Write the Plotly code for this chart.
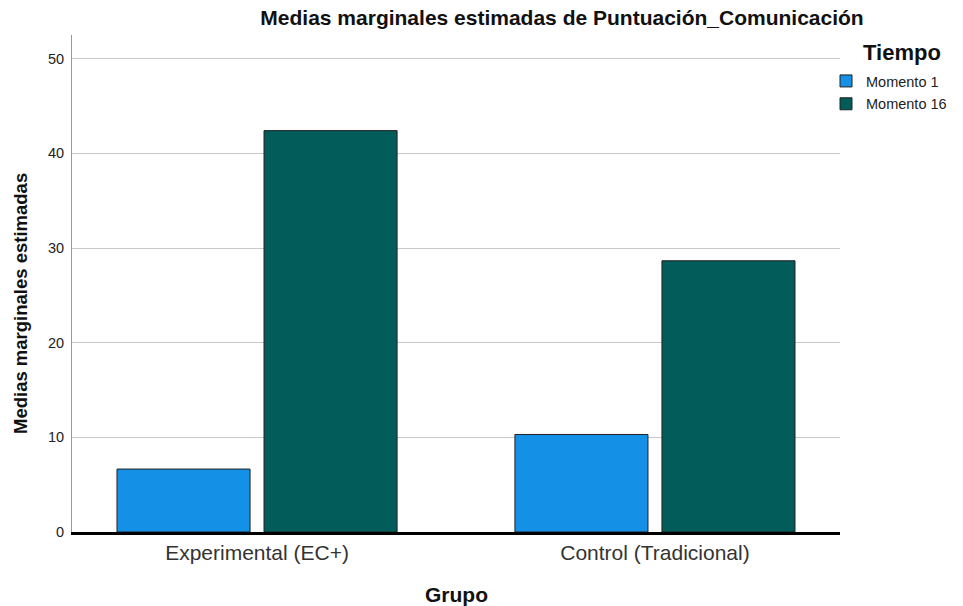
import plotly.graph_objects as go

grupos = ["Experimental (EC+)", "Control (Tradicional)"]
momento_1 = [6.65, 10.3]
momento_16 = [42.4, 28.65]
series_names = ["Momento 1", "Momento 16"]
colors = ["#1490E6", "#015C5A"]

fig = go.Figure()
for name, vals, c in zip(series_names, [momento_1, momento_16], colors):
    fig.add_trace(go.Bar(x=grupos, y=vals, name=name, legendgroup=name,
                         marker=dict(color=c, line=dict(color="#222222", width=1))))

# page body has an 8px default margin: work in window pixels, shift by OFF
OFF = 8
W, H = 963 - OFF, 606 - OFF
L, R, T, B = 72 - OFF, 840 - OFF, 35 - OFF, 532 - OFF
pw, ph = R - L, B - T


def px2paper(px, py):
    px -= OFF
    py -= OFF
    return (px - L) / pw, (B - py) / ph


FONT = "Liberation Sans, Arial, sans-serif"

ytx, yty = px2paper(20, 304)
gx, gy = px2paper(456, 594)
tx, ty = px2paper(861, 52)
lx, ly = px2paper(826, 65)

fig.update_layout(
    width=W, height=H,
    margin=dict(l=L, r=W - R, t=T, b=H - B, autoexpand=False),
    plot_bgcolor="white", paper_bgcolor="white",
    barmode="group", bargap=0.261, bargroupgap=0.095,
    font=dict(family=FONT, color="#222222"),
    title=dict(text="<b>Medias marginales estimadas de Puntuación_Comunicación</b>",
               x=(562 - OFF) / W, xanchor="center", xref="container",
               y=1 - (17.5 - OFF) / H, yanchor="middle", yref="container",
               font=dict(size=21, color="#111111")),
    showlegend=True,
    legend=dict(x=lx, xanchor="left", y=ly, yanchor="top",
                font=dict(size=14.5, color="#222222"),
                itemwidth=30, tracegroupgap=1,
                bgcolor="rgba(0,0,0,0)"),
    xaxis=dict(range=[-0.465, 1.465], showline=True, linecolor="black", linewidth=3,
               ticks="", tickfont=dict(size=21, color="#333333"),
               showgrid=False, zeroline=False),
    yaxis=dict(range=[0, 52.5], showline=True, linecolor="#999999", linewidth=1,
               tickvals=[0, 10, 20, 30, 40, 50], ticks="",
               ticklabelstandoff=4,
               tickfont=dict(size=14.5, color="#222222"),
               showgrid=True, gridcolor="#C8C8C8", gridwidth=1, zeroline=False),
    annotations=[
        dict(text="<b>Medias marginales estimadas</b>", textangle=-90,
             x=ytx, y=yty, xref="paper", yref="paper", showarrow=False,
             xanchor="center", yanchor="middle",
             font=dict(size=18.5, color="#111111")),
        dict(text="<b>Grupo</b>", x=gx, y=gy, xref="paper", yref="paper",
             showarrow=False, xanchor="center", yanchor="middle",
             font=dict(size=21, color="#111111")),
        dict(text="<b>Tiempo</b>", x=tx, y=ty, xref="paper", yref="paper",
             showarrow=False, xanchor="left", yanchor="middle",
             font=dict(size=22, color="#111111")),
    ],
)

fig.write_html("out.html")
